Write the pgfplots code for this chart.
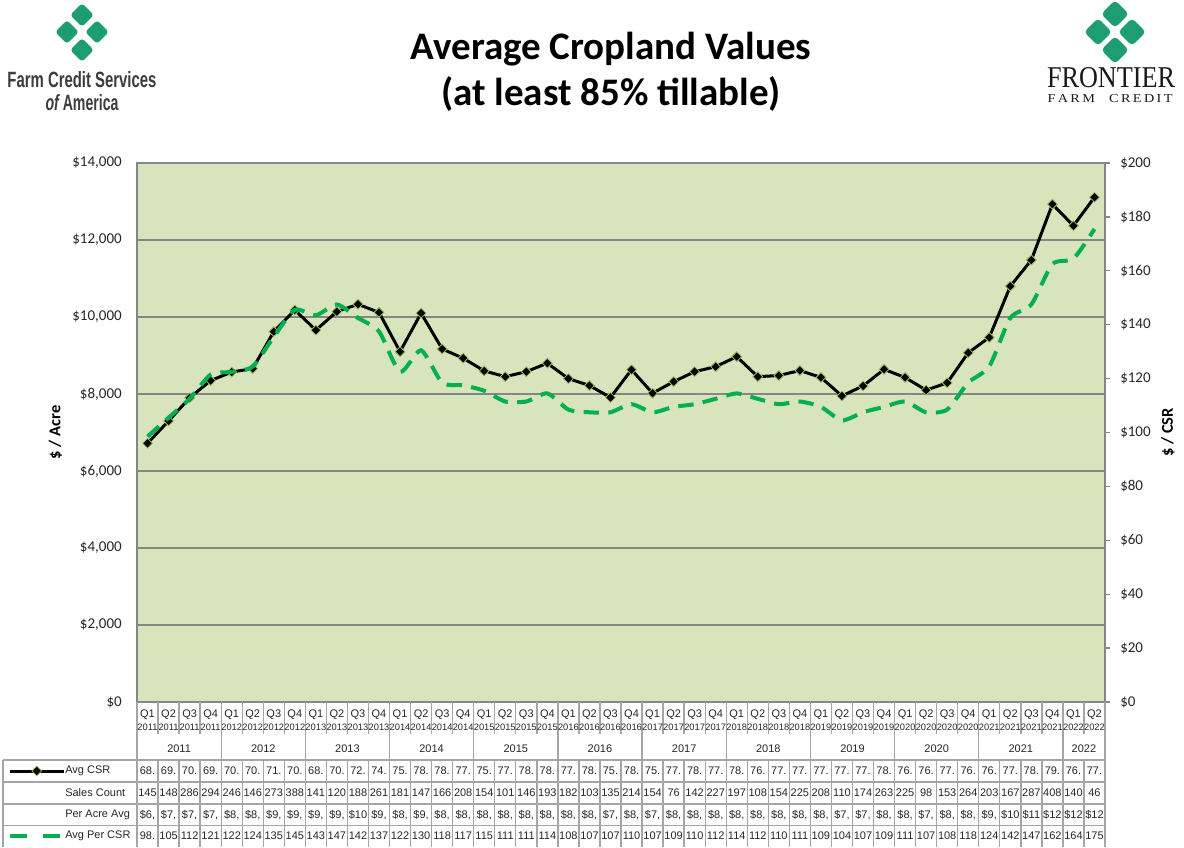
\documentclass[border=0pt]{standalone}
\usepackage{fontspec}
\setmainfont{Carlito}
\newfontfamily\arialf{Liberation Sans}
\newfontfamily\serf{Liberation Serif}
\usepackage{graphicx}
\usepackage{pgfplots}
\usepackage{pgfplotstable}
\pgfplotsset{compat=1.18}
\usetikzlibrary{shapes.geometric}
\definecolor{plotbg}{RGB}{216,228,188}
\definecolor{gridc}{RGB}{134,134,134}
\definecolor{tabc}{RGB}{165,165,165}
\definecolor{dgreen}{RGB}{0,176,80}
\definecolor{mk}{RGB}{155,187,89}
\definecolor{logo}{RGB}{30,158,112}
\definecolor{logotxt}{RGB}{60,60,60}

\pgfplotstableread{
x acre csr
0 6720 98.5
1 7300 105.5
2 7900 112.5
3 8350 121.5
4 8570 122.5
5 8660 124.5
6 9620 135.5
7 10180 145.5
8 9660 143.5
9 10140 147.5
10 10330 142.5
11 10120 137.5
12 9100 122.5
13 10100 130.5
14 9170 118.5
15 8930 117.5
16 8600 115.5
17 8450 111.5
18 8580 111.5
19 8800 114.5
20 8400 108.5
21 8220 107.5
22 7910 107.5
23 8630 110.5
24 8020 107.5
25 8320 109.5
26 8580 110.5
27 8710 112.5
28 8970 114.5
29 8450 112.5
30 8480 110.5
31 8610 111.5
32 8430 109.5
33 7950 104.5
34 8210 107.5
35 8640 109.5
36 8430 111.5
37 8100 107.5
38 8290 108.5
39 9070 118.5
40 9470 124.5
41 10800 142.5
42 11480 147.5
43 12930 162.5
44 12370 164.5
45 13110 175.5
}\cropdata

\def\csrlist{68.,69.,70.,69.,70.,70.,71.,70.,68.,70.,72.,74.,75.,78.,78.,77.,75.,77.,78.,78.,77.,78.,75.,78.,75.,77.,78.,77.,78.,76.,77.,77.,77.,77.,77.,78.,76.,76.,77.,76.,76.,77.,78.,79.,76.,77.}
\def\saleslist{145,148,286,294,246,146,273,388,141,120,188,261,181,147,166,208,154,101,146,193,182,103,135,214,154,76,142,227,197,108,154,225,208,110,174,263,225,98,153,264,203,167,287,408,140,46}
\def\acrelist{{\$6,},{\$7,},{\$7,},{\$7,},{\$8,},{\$8,},{\$9,},{\$9,},{\$9,},{\$9,},{\$10},{\$9,},{\$8,},{\$9,},{\$8,},{\$8,},{\$8,},{\$8,},{\$8,},{\$8,},{\$8,},{\$8,},{\$7,},{\$8,},{\$7,},{\$8,},{\$8,},{\$8,},{\$8,},{\$8,},{\$8,},{\$8,},{\$8,},{\$7,},{\$7,},{\$8,},{\$8,},{\$7,},{\$8,},{\$8,},{\$9,},{\$10},{\$11},{\$12},{\$12},{\$12}}
\def\perlist{98.,105,112,121,122,124,135,145,143,147,142,137,122,130,118,117,115,111,111,114,108,107,107,110,107,109,110,112,114,112,110,111,109,104,107,109,111,107,108,118,124,142,147,162,164,175}

\begin{document}
\begin{tikzpicture}[x=0.75pt,y=0.75pt,
  tabline/.style={tabc, line width=1pt},
  tabtxt/.style={font=\arialf\fontsize{8.25pt}{9pt}\selectfont, inner sep=0pt, text=black!85},
  yrtxt/.style={font=\arialf\fontsize{7pt}{8pt}\selectfont, inner sep=0pt, text=black!85}]
\useasboundingbox (0,0) rectangle (1184,847);

% ---- title
\node[anchor=base] at (611,787) {\fontsize{29.25pt}{34pt}\selectfont\bfseries Average Cropland Values};
\node[anchor=base] at (611,741) {\fontsize{29.25pt}{34pt}\selectfont\bfseries (at least 85\% tillable)};

% ---- left logo
\foreach \cx/\cy in {82/832, 67/815, 97/815, 82/797}
  \node[diamond, fill=logo, minimum width=18pt, minimum height=18pt, inner sep=0pt, rounded corners=2.5pt] at (\cx,\cy) {};
\node[text=logotxt] at (82,767) {\resizebox{111.75pt}{12pt}{\arialf\bfseries Farm Credit Services}};
\node[text=logotxt] at (82,744) {\resizebox{54.75pt}{12pt}{\arialf\bfseries{\itshape of} America}};

% ---- right logo
\foreach \cx/\cy in {1115/833, 1098/815, 1132/815, 1115/797}
  \node[diamond, fill=logo, minimum width=21pt, minimum height=21pt, inner sep=0pt, rounded corners=3pt] at (\cx,\cy) {};
\node[text=black!90] at (1111,769) {\resizebox{96pt}{15pt}{\serf FRONTIER}};
\node[text=black!90] at (1110,748) {\resizebox{93.75pt}{6pt}{\serf F\,A\,R\,M\quad C\,R\,E\,D\,I\,T}};

% ---- left axis (Per acre)
\begin{axis}[at={(102.75pt,108.75pt)}, anchor=south west, scale only axis,
  width=726pt, height=404.25pt,
  xmin=-0.5, xmax=45.5, ymin=0, ymax=14000, xtick=\empty,
  ytick={0,2000,...,14000}, scaled y ticks=false,
  yticklabels={{\$0},{\$2,000},{\$4,000},{\$6,000},{\$8,000},{\$10,000},{\$12,000},{\$14,000}},
  axis background/.style={fill=plotbg},
  ymajorgrids, grid style={gridc, line width=1.1pt},
  axis line style={gridc, line width=1.1pt},
  major tick length=0pt,
  yticklabel style={font=\fontsize{11.25pt}{13pt}\selectfont, inner sep=0pt, xshift=-11.25pt, text=black!85},
  every axis y label/.style={at={(axis description cs:-0.0842,0.5)}, rotate=90, anchor=center, font=\fontsize{12.4pt}{14pt}\selectfont\bfseries},
  ylabel={\$ / Acre},
  legend style={at={(axis description cs:-0.1333,-0.128)}, anchor=west, draw=none, fill=none, inner sep=0pt, nodes={inner sep=0pt}},
  legend image code/.code={\draw[mark repeat=2,mark phase=2,#1] plot coordinates {(0pt,0pt) (20.25pt,0pt) (40.5pt,0pt)};},
  ]
\addplot[black, line width=2.25pt, mark=square*, mark size=2.6pt,
  mark options={rotate=45, fill=black, draw=mk, line width=0.6pt, solid}]
  table[x=x,y=acre]{\cropdata};
\addlegendentry{\null}
\end{axis}

% ---- right axis (per CSR)
\begin{axis}[at={(102.75pt,108.75pt)}, anchor=south west, scale only axis,
  width=726pt, height=404.25pt,
  xmin=-0.5, xmax=45.5, ymin=0, ymax=200,
  axis x line=none, axis y line*=right,
  ytick={0,20,...,200}, scaled y ticks=false,
  yticklabels={{\$0},{\$20},{\$40},{\$60},{\$80},{\$100},{\$120},{\$140},{\$160},{\$180},{\$200}},
  tick align=outside, major tick length=3.75pt,
  tick style={gridc, line width=1pt},
  axis line style={gridc, line width=1.1pt},
  yticklabel style={font=\fontsize{11.25pt}{13pt}\selectfont, inner sep=0pt, xshift=7.5pt, text=black!85},
  every axis y label/.style={at={(axis description cs:1.0651,0.5)}, rotate=90, anchor=center, font=\fontsize{12.4pt}{14pt}\selectfont\bfseries},
  ylabel={\$ / CSR},
  legend style={at={(axis description cs:-0.1333,-0.2486)}, anchor=west, draw=none, fill=none, inner sep=0pt, nodes={inner sep=0pt}},
  legend image code/.code={\draw[#1, dash pattern=on 12.75pt off 12pt] (0pt,0pt) -- (37pt,0pt);},
  ]
\addplot[dgreen, line width=3pt, dash pattern=on 11.5pt off 7pt, smooth, tension=0.4]
  table[x=x,y=csr]{\cropdata};
\addlegendentry{\null}
\end{axis}

% ---- data table grid
\draw[tabline] (3,87) -- (1105,87);
\draw[tabline] (3,65) -- (1105,65);
\draw[tabline] (3,43) -- (1105,43);
\draw[tabline] (3,21.5) -- (1105,21.5);
\draw[tabline] (3,87) -- (3,0);
\draw[tabline] (137,145) -- (137,0);
\draw[tabline] (1105,145) -- (1105,0);
\foreach \k in {1,...,45}{
  \pgfmathsetmacro\xx{137+21.0435*\k}
  \pgfmathtruncatemacro\m{mod(\k,4)}
  \ifnum\m=0
    \draw[tabline] (\xx,145) -- (\xx,0);
  \else
    \draw[tabline] (\xx,145) -- (\xx,113);
    \draw[tabline] (\xx,87) -- (\xx,0);
  \fi
}
% header texts
\foreach \i in {0,...,45}{
  \pgfmathsetmacro\xc{137+21.0435*(\i+0.5)}
  \pgfmathtruncatemacro\q{mod(\i,4)+1}
  \pgfmathtruncatemacro\yr{2011+floor(\i/4)}
  \node[tabtxt] at (\xc,132) {Q\q};
  \node[yrtxt] at (\xc,120) {\yr};
}
\foreach \k in {0,...,10}{
  \pgfmathsetmacro\xc{137+84.174*(\k+0.5)}
  \pgfmathtruncatemacro\yr{2011+\k}
  \node[tabtxt] at (\xc,98) {\yr};
}
\node[tabtxt] at (1083.96,98) {2022};
% rows
\foreach \v [count=\i from 0] in \csrlist {\node[tabtxt] at ({137+21.0435*(\i+0.5)},76) {\v};}
\foreach \v [count=\i from 0] in \saleslist {\node[tabtxt] at ({137+21.0435*(\i+0.5)},54) {\v};}
\foreach \v [count=\i from 0] in \acrelist {\node[tabtxt] at ({137+21.0435*(\i+0.5)},32) {\v};}
\foreach \v [count=\i from 0] in \perlist {\node[tabtxt] at ({137+21.0435*(\i+0.5)},11) {\v};}
\node[tabtxt, anchor=west] at (65,76) {Avg CSR};
\node[tabtxt, anchor=west] at (65,54) {Sales Count};
\node[tabtxt, anchor=west] at (65,32) {Per Acre Avg};
\node[tabtxt, anchor=west] at (65,11) {Avg Per CSR};
\end{tikzpicture}
\end{document}
